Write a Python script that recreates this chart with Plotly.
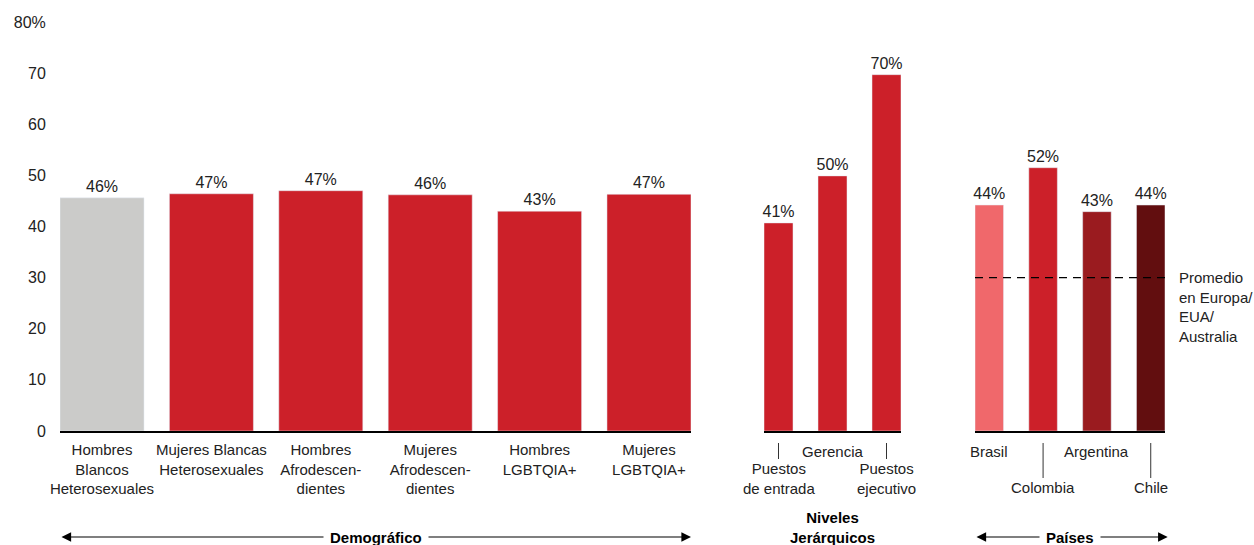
import plotly.graph_objects as go

# ---------------- data ----------------
demo_cats = ["Hombres<br>Blancos<br>Heterosexuales", "Mujeres Blancas<br>Heterosexuales",
             "Hombres<br>Afrodescen-<br>dientes", "Mujeres<br>Afrodescen-<br>dientes",
             "Hombres<br>LGBTQIA+", "Mujeres<br>LGBTQIA+"]
demo_vals = [45.6, 46.4, 47.0, 46.2, 43.0, 46.3]
demo_labels = ["46%", "47%", "47%", "46%", "43%", "47%"]
demo_colors = ["#CBCBC9", "#CC2029", "#CC2029", "#CC2029", "#CC2029", "#CC2029"]

lvl_cats = ["Puestos<br>de entrada", "Gerencia", "Puestos<br>ejecutivo"]
lvl_vals = [40.7, 49.9, 69.7]
lvl_labels = ["41%", "50%", "70%"]

pais_cats = ["Brasil", "Colombia", "Argentina", "Chile"]
pais_vals = [44.2, 51.5, 42.9, 44.2]
pais_labels = ["44%", "52%", "43%", "44%"]
pais_colors = ["#F0686B", "#CC2029", "#9A1B1F", "#620E0F"]

promedio = 30
y_ticks = [0, 10, 20, 30, 40, 50, 60, 70, 80]
y_ticktext = ["0", "10", "20", "30", "40", "50", "60", "70", "80%"]

FONT = "Liberation Sans, Arial, sans-serif"
RED = "#CC2029"

w1, w2, w3 = 0.768, 0.537, 0.53

TXT = dict(size=16, color="#222")
fig = go.Figure()
fig.add_trace(go.Bar(x=list(range(len(demo_cats))), y=demo_vals, width=w1, marker_color=demo_colors,
                     text=demo_labels, textposition="outside", cliponaxis=False, constraintext="none",
                     textfont=TXT, xaxis="x", yaxis="y"))
fig.add_trace(go.Bar(x=list(range(len(lvl_cats))), y=lvl_vals, width=w2, marker_color=RED,
                     text=lvl_labels, textposition="outside", cliponaxis=False, constraintext="none",
                     textfont=TXT, xaxis="x2", yaxis="y2"))
fig.add_trace(go.Bar(x=list(range(len(pais_cats))), y=pais_vals, width=w3, marker_color=pais_colors,
                     text=pais_labels, textposition="outside", cliponaxis=False, constraintext="none",
                     textfont=TXT, xaxis="x3", yaxis="y3"))

# page body margin is removed (post_script), so figure starts at window (0, 0)
W, H = 1254, 545
ML, MT = 60, 22
MB = H - 431
MR = 0
PW = W - ML - MR
PH = H - MT - MB

def dom(a, b):  # window pixel columns -> paper domain
    return [(a - 60) / PW, (b - 60) / PW]

def py(p):  # window pixel row -> paper y
    return (431 - p) / PH

xcommon = dict(showgrid=False, zeroline=False, showline=True, linecolor="black", linewidth=2,
               tickmode="array", ticks="outside", ticklen=4, tickcolor="rgba(0,0,0,0)", tickangle=0,
               tickfont=dict(size=15, color="#222"), fixedrange=True, automargin=False)
ycommon = dict(range=[0, 80], showgrid=False, zeroline=False, showline=False, fixedrange=True,
               automargin=False)

fig.update_layout(
    width=W, height=H, margin=dict(l=ML, r=MR, t=MT, b=MB),
    paper_bgcolor="white", plot_bgcolor="white", showlegend=False,
    font=dict(family=FONT, color="#222"),
    xaxis=dict(domain=dom(60, 691), range=[-w1 / 2, len(demo_cats) - 1 + w1 / 2],
               tickvals=list(range(len(demo_cats))), ticktext=demo_cats, **xcommon),
    xaxis2=dict(domain=dom(764, 901), range=[-w2 / 2, len(lvl_cats) - 1 + w2 / 2],
                showticklabels=False, anchor="y2", **xcommon),
    xaxis3=dict(domain=dom(975, 1165), range=[-w3 / 2, len(pais_cats) - 1 + w3 / 2],
                showticklabels=False, anchor="y3", **xcommon),
    yaxis=dict(tickvals=y_ticks, ticktext=y_ticktext, ticks="outside", ticklen=10,
               tickcolor="rgba(0,0,0,0)", tickfont=dict(size=16, color="#222"), **ycommon),
    yaxis2=dict(anchor="x2", showticklabels=False, **ycommon),
    yaxis3=dict(anchor="x3", showticklabels=False, **ycommon),
)

# dashed average line
fig.add_shape(type="line", xref="x3 domain", x0=0, x1=1, yref="y3", y0=promedio, y1=promedio,
              line=dict(color="black", width=1.3, dash="8px,6px"))
fig.add_annotation(xref="paper", x=(1177 - 60) / PW, xanchor="left", yref="y3", y=promedio,
                   yanchor="top", yshift=11, align="left", showarrow=False,
                   text="Promedio<br>en Europa/<br>EUA/<br>Australia", font=dict(size=15, color="#222"))

ANN = dict(font=dict(size=15, color="#222"))
# level labels
for i, c in enumerate(lvl_cats):
    if i == 1:
        fig.add_annotation(xref="x2", x=i, yref="paper", y=py(451), yanchor="middle",
                           showarrow=False, text=c, **ANN)
    else:
        fig.add_annotation(xref="x2", x=i, yref="paper", y=py(443), ax=0, ay=36,
                           showarrow=True, arrowhead=0, arrowwidth=1, arrowcolor="#333",
                           text=c, **ANN)
# country labels
for i, c in enumerate(pais_cats):
    if i % 2 == 0:
        fig.add_annotation(xref="x3", x=i, yref="paper", y=py(451), yanchor="middle",
                           showarrow=False, text=c, **ANN)
    else:
        fig.add_annotation(xref="x3", x=i, yref="paper", y=py(443), ax=0, ay=45,
                           showarrow=True, arrowhead=0, arrowwidth=1, arrowcolor="#333",
                           text=c, **ANN)

# group arrows
def group_arrow(xref, x0, x1, yp):
    fig.add_annotation(xref=xref, x=x1, axref=xref, ax=x0, yref="paper", y=yp, ayref="pixel", ay=0.001,
                       text="", showarrow=True, arrowside="end+start", arrowhead=2, arrowsize=1.6,
                       arrowwidth=1.2, arrowcolor="black", standoff=0, startstandoff=0)

ARROW_Y = 537
group_arrow("x", -w1 / 2, len(demo_cats) - 1 + w1 / 2, py(ARROW_Y))
group_arrow("x2", -0.5, len(lvl_cats) - 0.5, py(ARROW_Y))
group_arrow("x3", -w3 / 2, len(pais_cats) - 1 + w3 / 2 + 0.05, py(ARROW_Y))

BOLD = dict(size=15, color="black", family=FONT)
fig.add_annotation(xref="x", x=(len(demo_cats) - 1) / 2, yref="paper", y=py(ARROW_Y), yanchor="middle",
                   text="<b>Demográfico</b>", showarrow=False, bgcolor="white", borderpad=6,
                   font=BOLD)
fig.add_annotation(xref="x2", x=(len(lvl_cats) - 1) / 2, yref="paper", y=py(ARROW_Y - 9.5), yanchor="middle",
                   text="<b>Niveles<br>Jerárquicos</b>", showarrow=False, bgcolor="white", borderpad=5,
                   font=BOLD)
fig.add_annotation(xref="x3", x=(len(pais_cats) - 1) / 2, yref="paper", y=py(ARROW_Y), yanchor="middle",
                   text="<b>Países</b>", showarrow=False, bgcolor="white", borderpad=6, font=BOLD)

fig.write_html("out.html", default_width=f"{W}px", default_height=f"{H}px",
               config={"displayModeBar": False},
               post_script="document.body.style.margin='0px';document.body.style.overflow='hidden';")
